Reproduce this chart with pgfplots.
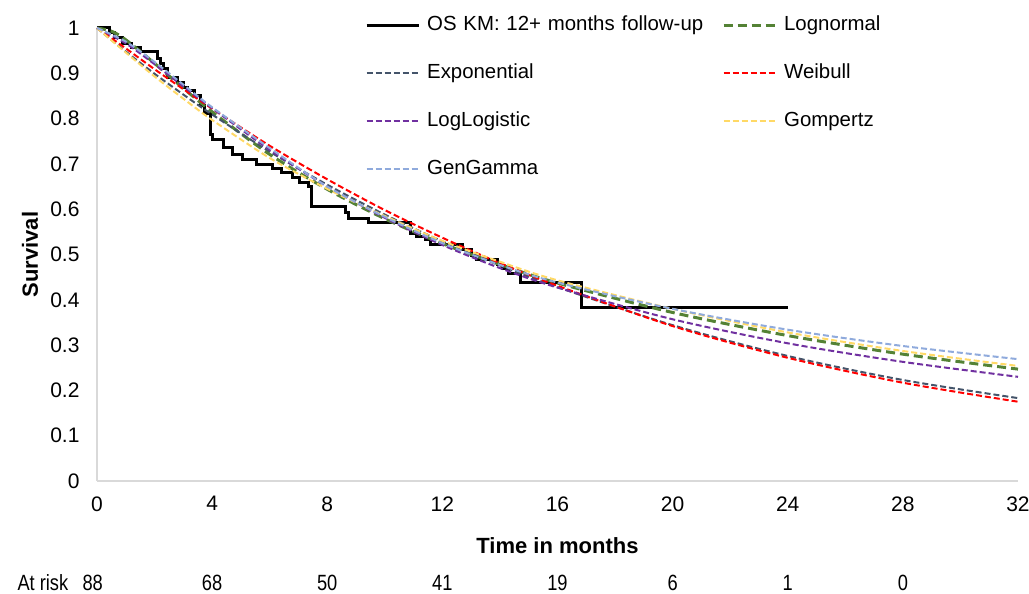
\documentclass[border=0pt]{standalone}
\usepackage{fontspec}
\setmainfont{Liberation Sans}
\usepackage{pgfplots}
\pgfplotsset{compat=1.18}
\definecolor{cLogn}{RGB}{84,130,53}
\definecolor{cExp}{RGB}{68,84,106}
\definecolor{cWei}{RGB}{255,0,0}
\definecolor{cLL}{RGB}{112,48,160}
\definecolor{cGomp}{RGB}{255,217,102}
\definecolor{cGG}{RGB}{143,170,220}
\definecolor{cAx}{RGB}{217,217,217}
\newcommand{\ar}[1]{\scalebox{0.87}[1.05]{#1}}
\begin{document}
\begin{tikzpicture}
\path[use as bounding box] (0pt,0pt) rectangle (1029pt,594pt);
\begin{axis}[
  at={(97pt,113pt)}, anchor=south west,
  scale only axis, width=921pt, height=453pt,
  xmin=0, xmax=32, ymin=0, ymax=1,
  xtick={0,4,...,32}, ytick={0,0.1,...,1.01},
  axis x line=bottom, axis y line=left,
  axis line style={-, draw=cAx, line width=1.2pt},
  major tick length=0pt,
  tick label style={font=\fontsize{21}{25}\selectfont},
  /pgf/number format/assume math mode=true,
  yticklabel style={/pgf/number format/fixed, /pgf/number format/precision=1, xshift=-14pt},
  xticklabel style={yshift=-12pt},
  xlabel={\bfseries Time in months},
  ylabel={\bfseries Survival},
  label style={font=\fontsize{22}{26}\selectfont},
  xlabel style={at={(axis description cs:0.5,-0.1435)}, anchor=center},
  ylabel style={at={(axis description cs:-0.0727,0.5)}, anchor=center},
  clip=false,
  legend columns=2,
  legend cell align=left,
  legend style={at={(axis cs:9.31,1.033)}, anchor=north west, draw=none, fill=none,
    inner sep=0pt, row sep=24pt, column sep=0pt,
    font=\fontsize{20.4}{24}\selectfont,
    nodes={text height=15pt, text depth=5pt, inner sep=2pt, anchor=west, text width=293pt}},
  legend image code/.code={\draw[#1] (0pt,0pt) -- (52pt,0pt); \path (57pt,0pt);},
]
% KM
\addplot[const plot, black, line width=3pt] coordinates {
(0,1.000) (0.45,0.990) (0.60,0.978) (0.9,0.966) (1.2,0.957) (1.5,0.948)
(2.1,0.933) (2.2,0.921) (2.3,0.910) (2.45,0.890) (2.8,0.879) (3.0,0.869)
(3.15,0.862) (3.4,0.852) (3.6,0.830) (3.75,0.812) (3.93,0.764) (4.03,0.753)
(4.38,0.737) (4.7,0.720) (5.07,0.709) (5.55,0.698) (6.1,0.690) (6.4,0.680)
(6.8,0.670) (7.05,0.660) (7.35,0.649) (7.47,0.605) (8.62,0.592) (8.75,0.580)
(9.45,0.570) (10.9,0.547) (11.1,0.540) (11.4,0.533) (11.6,0.521) (12.7,0.510)
(13.0,0.497) (13.2,0.490) (13.93,0.477) (14.1,0.468) (14.3,0.459) (14.7,0.439)
(16.85,0.384) (24.0,0.384)};
\addlegendentry{OS KM: 12+ months follow-up}
% Lognormal
\addplot[smooth, cLogn, line width=3pt, dash pattern=on 9pt off 5pt] coordinates {
(0,1) (0.5,0.993) (1,0.974) (2,0.922) (3,0.867) (4,0.815) (6,0.721) (8,0.644) (10,0.579)
(12,0.524) (14,0.478) (16,0.437) (20,0.372) (24,0.321) (28,0.280) (32,0.247)};
\addlegendentry{Lognormal}
% Exponential
\addplot[smooth, cExp, line width=2pt, dash pattern=on 6pt off 3pt] coordinates {
(0,1) (1,0.948) (2,0.899) (3,0.853) (4,0.809) (6,0.727) (8,0.654) (10,0.588)
(12,0.529) (14,0.476) (16,0.428) (20,0.344) (24,0.276) (28,0.223) (32,0.183)};
\addlegendentry{Exponential}
% Weibull
\addplot[smooth, cWei, line width=2pt, dash pattern=on 6pt off 3pt] coordinates {
(0,1) (1,0.955) (2,0.909) (3,0.865) (4,0.822) (6,0.740) (8,0.666) (10,0.598)
(12,0.537) (14,0.481) (16,0.431) (20,0.342) (24,0.272) (28,0.217) (32,0.175)};
\addlegendentry{Weibull}
% LogLogistic
\addplot[smooth, cLL, line width=2pt, dash pattern=on 6pt off 3pt] coordinates {
(0,1) (1,0.966) (2,0.920) (3,0.871) (4,0.823) (6,0.731) (8,0.650) (10,0.581)
(12,0.521) (14,0.470) (16,0.427) (20,0.357) (24,0.304) (28,0.263) (32,0.230)};
\addlegendentry{LogLogistic}
% Gompertz
\addplot[smooth, cGomp, line width=2pt, dash pattern=on 6pt off 3pt] coordinates {
(0,1) (1,0.946) (2,0.893) (3,0.844) (4,0.797) (6,0.713) (8,0.645) (10,0.585)
(12,0.530) (14,0.484) (16,0.443) (20,0.380) (24,0.328) (28,0.287) (32,0.254)};
\addlegendentry{Gompertz}
% GenGamma
\addplot[smooth, cGG, line width=2pt, dash pattern=on 6pt off 3pt] coordinates {
(0,1) (1,0.970) (2,0.925) (3,0.875) (4,0.825) (6,0.735) (8,0.650) (10,0.583)
(12,0.525) (14,0.477) (16,0.438) (20,0.380) (24,0.334) (28,0.298) (32,0.269)};
\addlegendentry{GenGamma}
% At risk row
\begin{scope}[every node/.style={font=\fontsize{21}{25}\selectfont, anchor=center}]
\node at (axis cs:-1.88,-0.225) {\ar{At risk}};
\node at (axis cs:-0.15,-0.225) {\ar{88}};
\node at (axis cs:4,-0.225) {\ar{68}};
\node at (axis cs:8,-0.225) {\ar{50}};
\node at (axis cs:12,-0.225) {\ar{41}};
\node at (axis cs:16,-0.225) {\ar{19}};
\node at (axis cs:20,-0.225) {\ar{6}};
\node at (axis cs:24,-0.225) {\ar{1}};
\node at (axis cs:28,-0.225) {\ar{0}};
\end{scope}
\end{axis}
\end{tikzpicture}
\end{document}
